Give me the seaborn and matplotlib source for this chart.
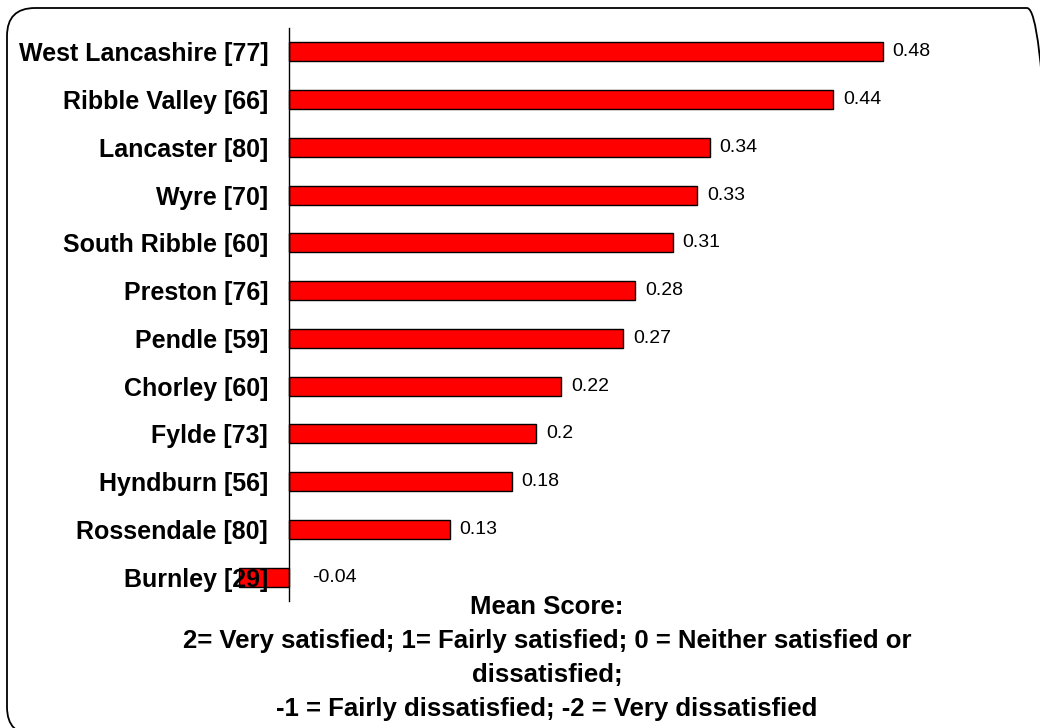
import matplotlib
matplotlib.use("Agg")
import matplotlib.pyplot as plt
from matplotlib.patches import FancyBboxPatch
import seaborn as sns
import pandas as pd

# District mean satisfaction scores (sample size in brackets)
districts = [
    "West Lancashire [77]", "Ribble Valley [66]", "Lancaster [80]", "Wyre [70]",
    "South Ribble [60]", "Preston [76]", "Pendle [59]", "Chorley [60]",
    "Fylde [73]", "Hyndburn [56]", "Rossendale [80]", "Burnley [29]",
]
mean_scores = [0.48, 0.44, 0.34, 0.33, 0.31, 0.28, 0.27, 0.22, 0.2, 0.18, 0.13, -0.04]

axis_title = [
    "Mean Score:",
    "2= Very satisfied; 1= Fairly satisfied; 0 = Neither satisfied or",
    "dissatisfied;",
    "-1 = Fairly dissatisfied; -2 = Very dissatisfied",
]

sns.set_theme(style="white")
plt.rcParams["font.family"] = ["Liberation Sans", "DejaVu Sans"]

df = pd.DataFrame({"district": districts, "score": mean_scores})

W, H = 1040, 728
fig = plt.figure(figsize=(W / 100, H / 100), dpi=100)
fig.patch.set_facecolor("white")
ax = fig.add_axes([227.1 / W, 1 - 601 / H, 804.4 / W, 573 / H])

sns.barplot(data=df, x="score", y="district", orient="h", color="#FF0000",
            saturation=1, edgecolor="black", linewidth=1.0, width=0.4, ax=ax)

ax.set_axisbelow(False)
ax.set_xlim(-0.05, 0.6)
ax.set_xlabel("")
ax.set_ylabel("")
ax.set_xticks([])
for side in ("top", "right", "bottom"):
    ax.spines[side].set_visible(False)
ax.spines["left"].set_position(("data", 0))
ax.spines["left"].set_color("black")
ax.spines["left"].set_linewidth(1.0)
ax.tick_params(axis="y", length=0, pad=15)
for lbl in ax.get_yticklabels():
    lbl.set_fontweight("bold")
    lbl.set_fontsize(18)
    lbl.set_color("black")

# value labels beside each bar
for i, v in enumerate(mean_scores):
    off = 7 if v >= 0 else 17
    ax.annotate(f"{v:g}", xy=(max(v, 0), i), xytext=(off, 0),
                textcoords="offset points", va="center", ha="left",
                fontsize=14, color="black")

# multi-line axis title beneath the plot
for k, line in enumerate(axis_title):
    fig.text(547 / W, 1 - (607 + 34 * k) / H, line, ha="center", va="center",
             fontsize=18.5, fontweight="bold", color="black")

# rounded outer frame
frame = FancyBboxPatch((7, H - 735), 1048, 727,
                       boxstyle="round,pad=0,rounding_size=28",
                       transform=None, facecolor="none", edgecolor="black",
                       linewidth=1.3, clip_on=False)
fig.patches.append(frame)

fig.savefig("out.png", dpi=100, facecolor="white")
